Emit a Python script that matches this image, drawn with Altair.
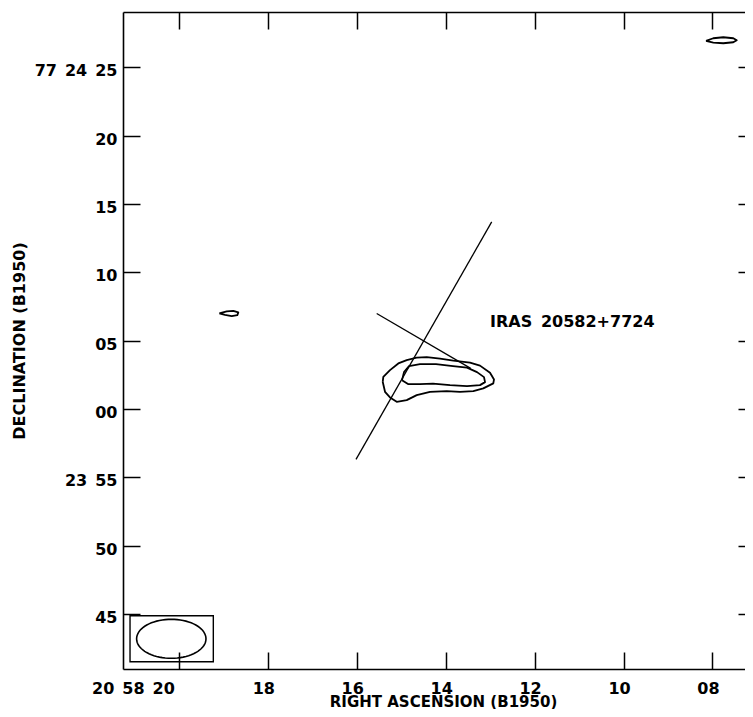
import altair as alt
import numpy as np
import pandas as pd

# ---- axis ticks (RA seconds of 20h58m, Dec arcsec offset from +77 24 00) ----
ra_ticks = [20, 18, 16, 14, 12, 10, 8]
ra_labels = ["20\u200258\u200220", "18", "16", "14", "12", "10", "08"]
dec_ticks = [25, 20, 15, 10, 5, 0, -5, -10, -15]
dec_labels = ["77\u200224\u200225", "20", "15", "10", "05", "00", "23\u200255", "50", "45"]

# ---- contours ----
outer_ra = [15.416, 15.402, 15.252, 15.065, 14.876, 14.651, 14.426, 14.127, 13.828, 13.453,
            13.228, 13.003, 12.913, 12.929, 13.154, 13.378, 13.678, 13.977, 14.352, 14.651,
            14.876, 15.101, 15.252, 15.364]
outer_dec = [1.986, 2.352, 2.842, 3.332, 3.574, 3.756, 3.793, 3.683, 3.537, 3.391,
             3.171, 2.650, 2.162, 1.869, 1.503, 1.306, 1.255, 1.306, 1.255, 1.013,
             0.647, 0.523, 0.845, 1.255]
inner_ra = [14.982, 14.937, 14.824, 14.577, 14.217, 13.835, 13.520, 13.295, 13.138, 13.115,
            13.228, 13.520, 13.902, 14.285, 14.577, 14.847]
inner_dec = [2.110, 2.696, 3.135, 3.281, 3.281, 3.135, 3.025, 2.696, 2.330, 1.964,
             1.745, 1.672, 1.745, 1.854, 1.818, 1.818]
small1_ra = [19.090, 18.924, 18.775, 18.663, 18.685, 18.811, 18.962]
small1_dec = [6.990, 7.136, 7.180, 7.063, 6.865, 6.792, 6.887]
small2_ra = [8.146, 7.982, 7.757, 7.532, 7.455, 7.532, 7.757, 7.982]
small2_dec = [26.931, 27.129, 27.202, 27.129, 26.982, 26.836, 26.763, 26.814]

# ---- straight lines ----
long_line_ra = [16.016, 12.965]
long_line_dec = [-3.691, 13.690]
short_line_ra = [15.551, 13.437]
short_line_dec = [6.990, 2.966]

# ---- beam ----
beam_box_ra = [21.098, 19.225]
beam_box_dec = [-15.13, -18.50]
beam_center = [20.170, -16.82]
beam_axes = [0.780, 1.426]

# ---- label ----
label_text = ["IRAS\u2009 20582+7724"]
label_ra = [13.003]
label_dec = [6.35]

rows = []
def add(name, ras, decs, sw, close):
    ras = list(ras); decs = list(decs)
    if close:
        ras = ras + ras[:1]; decs = decs + decs[:1]
    for i, (r, d) in enumerate(zip(ras, decs)):
        rows.append({"ra": r, "dec": d, "grp": name, "idx": i, "sw": sw})

add("outer", outer_ra, outer_dec, 1.8, True)
add("inner", inner_ra, inner_dec, 1.8, True)
add("small1", small1_ra, small1_dec, 1.8, True)
add("small2", small2_ra, small2_dec, 1.8, True)
add("long", long_line_ra, long_line_dec, 1.3, False)
add("short", short_line_ra, short_line_dec, 1.3, False)
df_lines = pd.DataFrame(rows)

t = np.linspace(0, 2 * np.pi, 73)
df_beam = pd.DataFrame({"ra": beam_center[0] + beam_axes[0] * np.cos(t),
                        "dec": beam_center[1] + beam_axes[1] * np.sin(t),
                        "idx": np.arange(len(t))})

df_box = pd.DataFrame({"x1": [beam_box_ra[0]], "x2": [beam_box_ra[1]],
                       "y1": [beam_box_dec[0]], "y2": [beam_box_dec[1]]})
df_text = pd.DataFrame({"ra": label_ra, "dec": label_dec, "text": label_text})


def make_expr(vals, labs):
    expr = "''"
    for v, l in reversed(list(zip(vals, labs))):
        expr = f"datum.value == {v} ? '{l}' : {expr}"
    return expr

FONT = "DejaVu Sans"
xscale = alt.Scale(domain=[7.269, 21.256], reverse=True, nice=False, zero=False)
yscale = alt.Scale(domain=[-19.03, 29.05], nice=False, zero=False)

x_bottom = alt.Axis(orient="bottom", values=ra_ticks, labelExpr=make_expr(ra_ticks, ra_labels),
                    offset=-17, tickSize=17, tickWidth=1.5, tickColor="black", domain=False, grid=False,
                    labelFont=FONT, labelFontSize=16, labelFontWeight="bold", labelColor="black",
                    labelPadding=11, labelBaseline="top", labelOffset=-4.5, labelFlush=False,
                    labelOverlap=False,
                    labelAlign={"condition": {"test": "datum.value == 20", "value": "right"}, "value": "center"},
                    title="RIGHT ASCENSION (B1950)", titleFont=FONT, titleFontSize=15,
                    titleFontWeight="bold", titleColor="black", titleX=320, titleY=54,
                    titleBaseline="alphabetic")
y_left = alt.Axis(orient="left", values=dec_ticks, labelExpr=make_expr(dec_ticks, dec_labels),
                  offset=-17, tickSize=17, tickWidth=1.5, tickColor="black", domain=False, grid=False,
                  labelFont=FONT, labelFontSize=16, labelFontWeight="bold", labelColor="black",
                  labelPadding=6, labelAlign="right", labelBaseline="middle", labelOffset=3.5,
                  labelFlush=False, labelOverlap=False,
                  title="DECLINATION (B1950)", titleFont=FONT, titleFontSize=16,
                  titleFontWeight="bold", titleColor="black", titleX=-121, titleBaseline="middle")
x_top = alt.Axis(orient="top", values=ra_ticks, labels=False, offset=-17, tickSize=17, tickWidth=1.5,
                 tickColor="black", domain=False, grid=False, title=None)
y_right = alt.Axis(orient="right", values=dec_ticks, labels=False, offset=-7, tickSize=7, tickWidth=1.5,
                   tickColor="black", domain=False, grid=False, title=None)
# frame lines (left, bottom, top) drawn as plain axis domains
x_frame_bottom = alt.Axis(orient="bottom", ticks=False, labels=False, domain=True, domainColor="black",
                          domainWidth=1.6, grid=False, title=None)
y_frame_left = alt.Axis(orient="left", ticks=False, labels=False, domain=True, domainColor="black",
                        domainWidth=1.6, grid=False, title=None)
x_frame_top = alt.Axis(orient="top", ticks=False, labels=False, domain=True, domainColor="black",
                       domainWidth=1.6, grid=False, title=None)

lines = alt.Chart(df_lines).mark_line(color="black", strokeJoin="round").encode(
    x=alt.X("ra:Q", scale=xscale, axis=x_bottom),
    y=alt.Y("dec:Q", scale=yscale, axis=y_left),
    detail="grp:N",
    order="idx:Q",
    strokeWidth=alt.StrokeWidth("sw:Q", scale=None),
)

box = alt.Chart(df_box).mark_rect(fill="white", fillOpacity=0, stroke="black", strokeWidth=1.4).encode(
    x=alt.X("x1:Q", scale=xscale, axis=x_top),
    x2="x2:Q",
    y=alt.Y("y1:Q", scale=yscale, axis=y_right),
    y2="y2:Q",
)

text = alt.Chart(df_text).mark_text(font=FONT, fontSize=16, fontWeight="bold", color="black",
                                    align="left", baseline="middle").encode(
    x=alt.X("ra:Q", scale=xscale, axis=x_frame_bottom),
    y=alt.Y("dec:Q", scale=yscale, axis=y_frame_left),
    text="text:N",
)

beam = alt.Chart(df_beam).mark_line(color="black", strokeWidth=1.6).encode(
    x=alt.X("ra:Q", scale=xscale, axis=x_frame_top),
    y=alt.Y("dec:Q", scale=yscale, axis=None),
    order="idx:Q",
)

chart = alt.layer(lines, box, text, beam).resolve_axis(x="independent", y="independent").properties(
    width=622, height=657,
    autosize=alt.AutoSizeParams(type="none"),
    padding={"left": 115, "top": 4, "right": 0, "bottom": 40},
    background="white",
).configure_view(strokeWidth=0)

chart.save("out.html", embed_options={"renderer": "svg", "actions": False})
